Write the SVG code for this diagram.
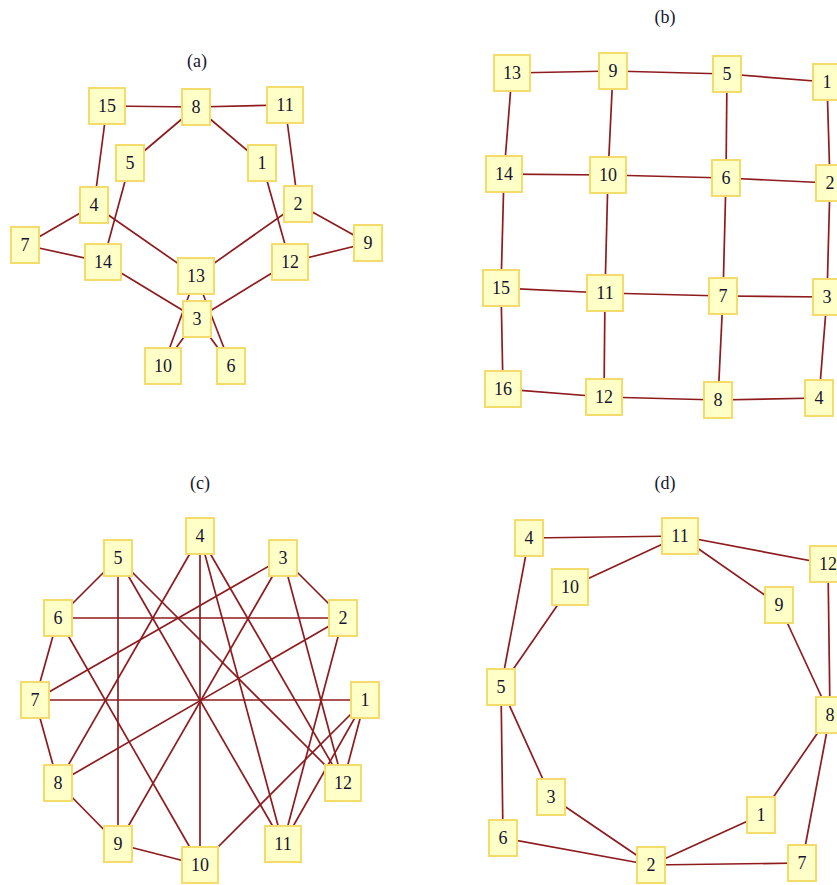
<svg xmlns="http://www.w3.org/2000/svg" width="837" height="885" viewBox="0 0 837 885">
<style>
.e{stroke:#8e1b1e;stroke-width:1.7;fill:none}
.n rect{fill:#ffffc8;stroke:#f3dc6c;stroke-width:2}
text{font-family:"Liberation Serif","Times New Roman",serif;font-size:18px;fill:#151530;text-anchor:middle}
</style>
<rect width="837" height="885" fill="#fff"/>
<text x="197" y="67">(a)</text>
<text x="665" y="23">(b)</text>
<text x="200" y="489">(c)</text>
<text x="665" y="489">(d)</text>

<g id="edges-a" class="e">
<line x1="107" y1="106" x2="196" y2="107"/>
<line x1="196" y1="107" x2="285" y2="105"/>
<line x1="107" y1="106" x2="94" y2="205"/>
<line x1="196" y1="107" x2="130" y2="163"/>
<line x1="196" y1="107" x2="262" y2="163"/>
<line x1="285" y1="105" x2="298" y2="204"/>
<line x1="130" y1="163" x2="103" y2="262"/>
<line x1="262" y1="163" x2="290" y2="262"/>
<line x1="94" y1="205" x2="25" y2="245"/>
<line x1="25" y1="245" x2="103" y2="262"/>
<line x1="94" y1="205" x2="196" y2="276"/>
<line x1="196" y1="276" x2="298" y2="204"/>
<line x1="298" y1="204" x2="368" y2="243"/>
<line x1="368" y1="243" x2="290" y2="262"/>
<line x1="103" y1="262" x2="197" y2="319"/>
<line x1="290" y1="262" x2="197" y2="319"/>
<line x1="196" y1="276" x2="163" y2="366"/>
<line x1="196" y1="276" x2="231" y2="366"/>
<line x1="197" y1="319" x2="163" y2="366"/>
<line x1="197" y1="319" x2="231" y2="366"/>
</g>
<g id="nodes-a">
<g id="a15" class="n"><rect x="89" y="88" width="36" height="36"/><text x="107" y="112">15</text></g>
<g id="a8" class="n"><rect x="182" y="89" width="28" height="36"/><text x="196" y="113">8</text></g>
<g id="a11" class="n"><rect x="267" y="87" width="36" height="36"/><text x="285" y="111">11</text></g>
<g id="a5" class="n"><rect x="116" y="145" width="28" height="36"/><text x="130" y="169">5</text></g>
<g id="a1" class="n"><rect x="248" y="145" width="28" height="36"/><text x="262" y="169">1</text></g>
<g id="a4" class="n"><rect x="80" y="187" width="28" height="36"/><text x="94" y="211">4</text></g>
<g id="a2" class="n"><rect x="284" y="186" width="28" height="36"/><text x="298" y="210">2</text></g>
<g id="a7" class="n"><rect x="11" y="227" width="28" height="36"/><text x="25" y="251">7</text></g>
<g id="a9" class="n"><rect x="354" y="225" width="28" height="36"/><text x="368" y="249">9</text></g>
<g id="a14" class="n"><rect x="85" y="244" width="36" height="36"/><text x="103" y="268">14</text></g>
<g id="a12" class="n"><rect x="272" y="244" width="36" height="36"/><text x="290" y="268">12</text></g>
<g id="a13" class="n"><rect x="178" y="258" width="36" height="36"/><text x="196" y="282">13</text></g>
<g id="a3" class="n"><rect x="183" y="301" width="28" height="36"/><text x="197" y="325">3</text></g>
<g id="a10" class="n"><rect x="145" y="348" width="36" height="36"/><text x="163" y="372">10</text></g>
<g id="a6" class="n"><rect x="217" y="348" width="28" height="36"/><text x="231" y="372">6</text></g>
</g>

<g id="edges-b" class="e">
<line x1="512" y1="73" x2="613" y2="71"/>
<line x1="613" y1="71" x2="727" y2="74"/>
<line x1="727" y1="74" x2="827" y2="82"/>
<line x1="504" y1="174" x2="608" y2="175"/>
<line x1="608" y1="175" x2="726" y2="178"/>
<line x1="726" y1="178" x2="830" y2="183"/>
<line x1="501" y1="288" x2="605" y2="293"/>
<line x1="605" y1="293" x2="723" y2="296"/>
<line x1="723" y1="296" x2="827" y2="297"/>
<line x1="503" y1="389" x2="604" y2="397"/>
<line x1="604" y1="397" x2="718" y2="400"/>
<line x1="718" y1="400" x2="819" y2="398"/>
<line x1="512" y1="73" x2="504" y2="174"/>
<line x1="504" y1="174" x2="501" y2="288"/>
<line x1="501" y1="288" x2="503" y2="389"/>
<line x1="613" y1="71" x2="608" y2="175"/>
<line x1="608" y1="175" x2="605" y2="293"/>
<line x1="605" y1="293" x2="604" y2="397"/>
<line x1="727" y1="74" x2="726" y2="178"/>
<line x1="726" y1="178" x2="723" y2="296"/>
<line x1="723" y1="296" x2="718" y2="400"/>
<line x1="827" y1="82" x2="830" y2="183"/>
<line x1="830" y1="183" x2="827" y2="297"/>
<line x1="827" y1="297" x2="819" y2="398"/>
</g>
<g id="nodes-b">
<g id="b13" class="n"><rect x="494" y="55" width="36" height="36"/><text x="512" y="79">13</text></g>
<g id="b9" class="n"><rect x="599" y="53" width="28" height="36"/><text x="613" y="77">9</text></g>
<g id="b5" class="n"><rect x="713" y="56" width="28" height="36"/><text x="727" y="80">5</text></g>
<g id="b1" class="n"><rect x="813" y="64" width="28" height="36"/><text x="827" y="88">1</text></g>
<g id="b14" class="n"><rect x="486" y="156" width="36" height="36"/><text x="504" y="180">14</text></g>
<g id="b10" class="n"><rect x="590" y="157" width="36" height="36"/><text x="608" y="181">10</text></g>
<g id="b6" class="n"><rect x="712" y="160" width="28" height="36"/><text x="726" y="184">6</text></g>
<g id="b2" class="n"><rect x="816" y="165" width="28" height="36"/><text x="830" y="189">2</text></g>
<g id="b15" class="n"><rect x="483" y="270" width="36" height="36"/><text x="501" y="294">15</text></g>
<g id="b11" class="n"><rect x="587" y="275" width="36" height="36"/><text x="605" y="299">11</text></g>
<g id="b7" class="n"><rect x="709" y="278" width="28" height="36"/><text x="723" y="302">7</text></g>
<g id="b3" class="n"><rect x="813" y="279" width="28" height="36"/><text x="827" y="303">3</text></g>
<g id="b16" class="n"><rect x="485" y="371" width="36" height="36"/><text x="503" y="395">16</text></g>
<g id="b12" class="n"><rect x="586" y="379" width="36" height="36"/><text x="604" y="403">12</text></g>
<g id="b8" class="n"><rect x="704" y="382" width="28" height="36"/><text x="718" y="406">8</text></g>
<g id="b4" class="n"><rect x="805" y="380" width="28" height="36"/><text x="819" y="404">4</text></g>
</g>

<g id="edges-c" class="e">
<line x1="118" y1="558" x2="58" y2="618"/>
<line x1="58" y1="618" x2="35" y2="700"/>
<line x1="35" y1="700" x2="58" y2="783"/>
<line x1="58" y1="783" x2="118" y2="844"/>
<line x1="118" y1="844" x2="200" y2="865"/>
<line x1="283" y1="558" x2="343" y2="618"/>
<line x1="58" y1="618" x2="343" y2="618"/>
<line x1="35" y1="700" x2="365" y2="700"/>
<line x1="200" y1="536" x2="200" y2="865"/>
<line x1="118" y1="558" x2="118" y2="844"/>
<line x1="200" y1="536" x2="58" y2="783"/>
<line x1="283" y1="558" x2="35" y2="700"/>
<line x1="283" y1="558" x2="118" y2="844"/>
<line x1="343" y1="618" x2="58" y2="783"/>
<line x1="118" y1="558" x2="283" y2="844"/>
<line x1="118" y1="558" x2="343" y2="783"/>
<line x1="58" y1="618" x2="200" y2="865"/>
<line x1="200" y1="536" x2="283" y2="844"/>
<line x1="200" y1="536" x2="343" y2="783"/>
<line x1="283" y1="558" x2="343" y2="783"/>
<line x1="343" y1="618" x2="283" y2="844"/>
<line x1="365" y1="700" x2="343" y2="783"/>
<line x1="365" y1="700" x2="283" y2="844"/>
<line x1="365" y1="700" x2="200" y2="865"/>
</g>
<g id="nodes-c">
<g id="c4" class="n"><rect x="186" y="518" width="28" height="36"/><text x="200" y="542">4</text></g>
<g id="c5" class="n"><rect x="104" y="540" width="28" height="36"/><text x="118" y="564">5</text></g>
<g id="c3" class="n"><rect x="269" y="540" width="28" height="36"/><text x="283" y="564">3</text></g>
<g id="c6" class="n"><rect x="44" y="600" width="28" height="36"/><text x="58" y="624">6</text></g>
<g id="c2" class="n"><rect x="329" y="600" width="28" height="36"/><text x="343" y="624">2</text></g>
<g id="c7" class="n"><rect x="21" y="682" width="28" height="36"/><text x="35" y="706">7</text></g>
<g id="c1" class="n"><rect x="351" y="682" width="28" height="36"/><text x="365" y="706">1</text></g>
<g id="c8" class="n"><rect x="44" y="765" width="28" height="36"/><text x="58" y="789">8</text></g>
<g id="c12" class="n"><rect x="325" y="765" width="36" height="36"/><text x="343" y="789">12</text></g>
<g id="c9" class="n"><rect x="104" y="826" width="28" height="36"/><text x="118" y="850">9</text></g>
<g id="c11" class="n"><rect x="265" y="826" width="36" height="36"/><text x="283" y="850">11</text></g>
<g id="c10" class="n"><rect x="182" y="847" width="36" height="36"/><text x="200" y="871">10</text></g>
</g>

<g id="edges-d" class="e">
<line x1="529" y1="538" x2="680" y2="536"/>
<line x1="680" y1="536" x2="828" y2="564"/>
<line x1="680" y1="536" x2="570" y2="587"/>
<line x1="680" y1="536" x2="779" y2="605"/>
<line x1="529" y1="538" x2="501" y2="687"/>
<line x1="570" y1="587" x2="501" y2="687"/>
<line x1="828" y1="564" x2="830" y2="715"/>
<line x1="779" y1="605" x2="830" y2="715"/>
<line x1="501" y1="687" x2="551" y2="797"/>
<line x1="501" y1="687" x2="503" y2="838"/>
<line x1="830" y1="715" x2="761" y2="815"/>
<line x1="830" y1="715" x2="802" y2="863"/>
<line x1="551" y1="797" x2="651" y2="865"/>
<line x1="503" y1="838" x2="651" y2="865"/>
<line x1="761" y1="815" x2="651" y2="865"/>
<line x1="651" y1="865" x2="802" y2="863"/>
</g>
<g id="nodes-d">
<g id="d4" class="n"><rect x="515" y="520" width="28" height="36"/><text x="529" y="544">4</text></g>
<g id="d11" class="n"><rect x="662" y="518" width="36" height="36"/><text x="680" y="542">11</text></g>
<g id="d12" class="n"><rect x="810" y="546" width="36" height="36"/><text x="828" y="570">12</text></g>
<g id="d10" class="n"><rect x="552" y="569" width="36" height="36"/><text x="570" y="593">10</text></g>
<g id="d9" class="n"><rect x="765" y="587" width="28" height="36"/><text x="779" y="611">9</text></g>
<g id="d5" class="n"><rect x="487" y="669" width="28" height="36"/><text x="501" y="693">5</text></g>
<g id="d8" class="n"><rect x="816" y="697" width="28" height="36"/><text x="830" y="721">8</text></g>
<g id="d3" class="n"><rect x="537" y="779" width="28" height="36"/><text x="551" y="803">3</text></g>
<g id="d1" class="n"><rect x="747" y="797" width="28" height="36"/><text x="761" y="821">1</text></g>
<g id="d6" class="n"><rect x="489" y="820" width="28" height="36"/><text x="503" y="844">6</text></g>
<g id="d2" class="n"><rect x="637" y="847" width="28" height="36"/><text x="651" y="871">2</text></g>
<g id="d7" class="n"><rect x="788" y="845" width="28" height="36"/><text x="802" y="869">7</text></g>
</g>
</svg>
